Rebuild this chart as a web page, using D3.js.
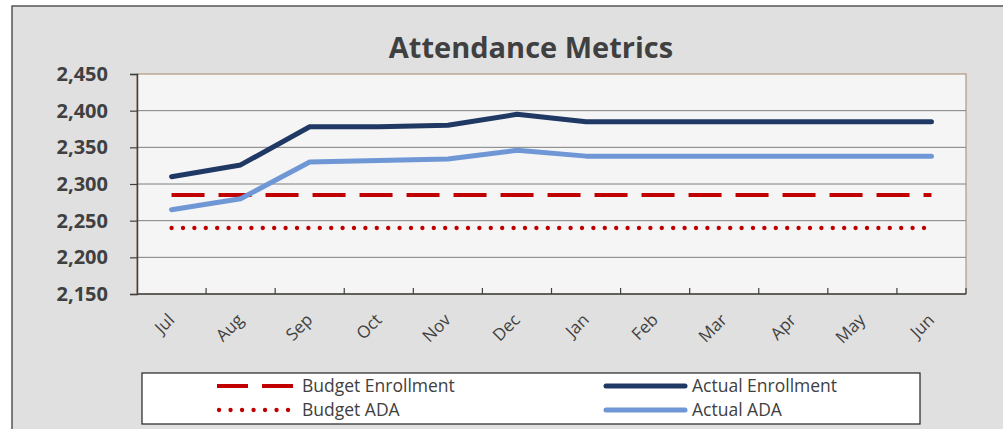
<!DOCTYPE html>
<html>
<head>
<meta charset="utf-8">
<script src="https://cdn.jsdelivr.net/npm/d3@7"></script>
<style>
  body { margin: 0; background: #fff; }
  svg { display: block; }
</style>
</head>
<body>
<svg id="chart"></svg>
<script>
const width = 1003;
const height = 429;

const months = ["Jul", "Aug", "Sep", "Oct", "Nov", "Dec", "Jan", "Feb", "Mar", "Apr", "May", "Jun"];
const budgetEnrollment = [2285, 2285, 2285, 2285, 2285, 2285, 2285, 2285, 2285, 2285, 2285, 2285];
const actualEnrollment = [2310, 2326, 2378, 2378, 2380, 2395, 2385, 2385, 2385, 2385, 2385, 2385];
const budgetADA = [2240, 2240, 2240, 2240, 2240, 2240, 2240, 2240, 2240, 2240, 2240, 2240];
const actualADA = [2265, 2280, 2330, 2332, 2334, 2346, 2338, 2338, 2338, 2338, 2338, 2338];
const yTicks = [2150, 2200, 2250, 2300, 2350, 2400, 2450];

const series = [
  { name: "Budget Enrollment", values: budgetEnrollment, color: "#c00000", width: 4, dash: "33,14", cap: "butt" },
  { name: "Actual Enrollment", values: actualEnrollment, color: "#1f3864", width: 5, dash: null, cap: "round" },
  { name: "Budget ADA", values: budgetADA, color: "#c00000", width: 4.3, dash: "0.1,11.3", cap: "round" },
  { name: "Actual ADA", values: actualADA, color: "#6f97d6", width: 5, dash: null, cap: "round" }
];

const plot = { left: 137, right: 966, top: 74, bottom: 294 };
const font = "'Open Sans', 'Liberation Sans', sans-serif";

const svg = d3.select('#chart')
  .attr('width', width)
  .attr('height', height);

// chart frame
svg.append('rect')
  .attr('x', 12).attr('y', 6)
  .attr('width', 1040).attr('height', 460)
  .attr('fill', '#e0e0e0')
  .attr('stroke', '#555').attr('stroke-width', 1.5);

svg.append('text')
  .attr('x', 531).attr('y', 58)
  .attr('text-anchor', 'middle')
  .attr('font-family', font)
  .attr('font-weight', 'bold')
  .attr('font-size', 29)
  .attr('fill', '#404040')
  .text("Attendance Metrics");

const x = d3.scaleBand()
  .domain(months)
  .range([plot.left, plot.right])
  .padding(0);

const y = d3.scaleLinear()
  .domain([2150, 2450])
  .range([plot.bottom, plot.top]);

// plot area
svg.append('rect')
  .attr('x', plot.left).attr('y', plot.top)
  .attr('width', plot.right - plot.left)
  .attr('height', plot.bottom - plot.top)
  .attr('fill', '#f5f5f5')
  .attr('stroke', '#a8876a').attr('stroke-width', 1);

// gridlines
svg.append('g')
  .selectAll('line')
  .data(yTicks.filter(t => t > 2150 && t < 2450))
  .enter().append('line')
    .attr('x1', plot.left).attr('x2', plot.right)
    .attr('y1', d => y(d)).attr('y2', d => y(d))
    .attr('stroke', '#7f7f7f')
    .attr('stroke-width', 1);

// y axis
const yAxis = svg.append('g')
  .attr('transform', `translate(${plot.left},0)`)
  .call(d3.axisLeft(y).tickValues(yTicks).tickSize(7).tickPadding(22).tickFormat(d3.format(',')));
yAxis.select('.domain').attr('stroke', '#404040').attr('stroke-width', 1.5);
yAxis.selectAll('.tick line').attr('stroke', '#404040').attr('stroke-width', 1.2);
yAxis.selectAll('.tick text')
  .attr('font-family', font)
  .attr('font-weight', 'bold')
  .attr('font-size', 20)
  .attr('fill', '#404040');

// x axis
svg.append('line')
  .attr('x1', plot.left).attr('x2', plot.right)
  .attr('y1', plot.bottom).attr('y2', plot.bottom)
  .attr('stroke', '#404040').attr('stroke-width', 1.5);

svg.append('g')
  .selectAll('line')
  .data(months.slice(1).concat(["end"]))
  .enter().append('line')
    .attr('x1', d => d === "end" ? plot.right : x(d))
    .attr('x2', d => d === "end" ? plot.right : x(d))
    .attr('y1', plot.bottom).attr('y2', plot.bottom - 6)
    .attr('stroke', '#404040').attr('stroke-width', 1.2);

svg.append('g')
  .selectAll('text')
  .data(months)
  .enter().append('text')
    .attr('transform', d => `translate(${x(d) + x.bandwidth() / 2 + 4},${plot.bottom + 27}) rotate(-45)`)
    .attr('text-anchor', 'end')
    .attr('font-family', font)
    .attr('font-size', 17)
    .attr('fill', '#404040')
    .text(d => d);

// lines
const line = d3.line()
  .x((d, i) => x(months[i]) + x.bandwidth() / 2)
  .y(d => y(d));

svg.append('g')
  .selectAll('path')
  .data(series)
  .enter().append('path')
    .attr('d', s => line(s.values))
    .attr('fill', 'none')
    .attr('stroke', s => s.color)
    .attr('stroke-width', s => s.width)
    .attr('stroke-dasharray', s => s.dash)
    .attr('stroke-linecap', s => s.cap)
    .attr('stroke-linejoin', 'round');

// legend
svg.append('rect')
  .attr('x', 142).attr('y', 373)
  .attr('width', 778).attr('height', 51)
  .attr('fill', '#ffffff')
  .attr('stroke', '#222').attr('stroke-width', 1.2);

const legendPos = [
  { x: 217, y: 386 }, { x: 606, y: 386 },
  { x: 217, y: 410 }, { x: 606, y: 410 }
];

const legendItems = svg.append('g')
  .selectAll('g')
  .data(series)
  .enter().append('g')
    .attr('transform', (d, i) => `translate(${legendPos[i].x},${legendPos[i].y})`);

legendItems.append('line')
  .attr('x1', s => s.cap === "round" && s.dash ? 2 : 0)
  .attr('x2', s => s.dash ? (s.cap === "round" ? 72 : 77) : 79)
  .attr('y1', 0).attr('y2', 0)
  .attr('stroke', s => s.color)
  .attr('stroke-width', s => s.width)
  .attr('stroke-dasharray', s => s.dash ? (s.cap === "round" ? "0.1,11.4" : "31,14") : null)
  .attr('stroke-linecap', s => s.cap);

legendItems.append('text')
  .attr('x', (d, i) => i % 2 === 0 ? 85 : 86)
  .attr('y', 6)
  .attr('font-family', font)
  .attr('font-size', 17.5)
  .attr('fill', '#404040')
  .text(s => s.name);
</script>
</body>
</html>
